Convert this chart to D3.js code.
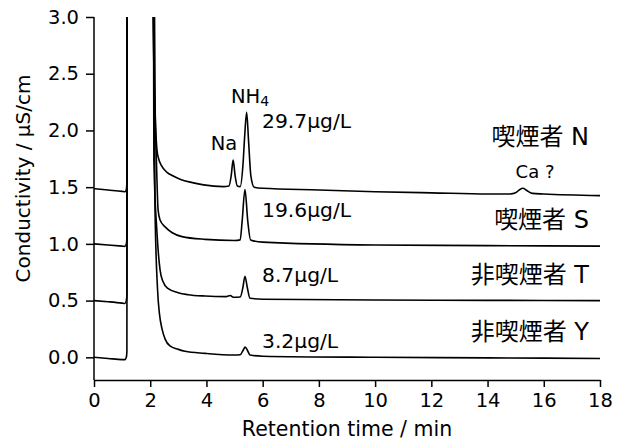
<!DOCTYPE html>
<html><head><meta charset="utf-8">
<script src="https://cdn.jsdelivr.net/npm/d3@7"></script>
<style>
body{margin:0;background:#fff;}
text{font-family:"DejaVu Sans","Noto Sans CJK JP",sans-serif;fill:#000;}
</style></head>
<body><svg id="c" width="622" height="442"></svg>
<script>
// ---- data ----
const xTicks = [0,2,4,6,8,10,12,14,16,18];
const yTicks = [0.0,0.5,1.0,1.5,2.0,2.5,3.0];
const sampleNames = ["喫煙者 N","喫煙者 S","非喫煙者 T","非喫煙者 Y"];
const nh4Labels = ["29.7µg/L","19.6µg/L","8.7µg/L","3.2µg/L"];
// [retention time (min), conductivity (µS/cm)]
const traceN = [[0,1.487],[0.5,1.475],[1.0,1.463],[1.1,1.46],[1.15,1.48],[1.17,1.55],[1.18,5],[2.05,5],[2.1,3.0],[2.24,1.83],[2.3,1.75],[2.4,1.69],[2.6,1.63],[2.8,1.6],[3.06,1.57],[3.5,1.54],[3.9,1.52],[4.6,1.505],[4.8,1.51],[4.88,1.6],[4.95,1.74],[5.02,1.6],[5.1,1.51],[5.2,1.505],[5.3,1.7],[5.36,1.95],[5.43,2.16],[5.5,1.9],[5.58,1.6],[5.7,1.5],[6.0,1.49],[8,1.475],[10,1.46],[12,1.45],[14,1.44],[14.8,1.44],[15.0,1.45],[15.15,1.48],[15.26,1.49],[15.4,1.47],[15.6,1.445],[16,1.44],[18,1.425]];
const traceS = [[0,1.0],[0.5,0.99],[1.0,0.98],[1.1,0.978],[1.15,1.0],[1.17,1.05],[1.18,5],[2.1,5],[2.17,2.3],[2.22,1.74],[2.28,1.3],[2.35,1.21],[2.53,1.15],[2.77,1.1],[3.13,1.064],[3.95,1.04],[5.0,1.03],[5.2,1.035],[5.27,1.2],[5.37,1.48],[5.47,1.2],[5.57,1.035],[6,1.015],[10,0.99],[14,0.985],[18,0.98]];
const traceT = [[0,0.5],[0.5,0.49],[1.0,0.478],[1.1,0.475],[1.15,0.5],[1.17,0.55],[1.18,5],[2.1,5],[2.13,1.74],[2.24,1.1],[2.35,0.77],[2.45,0.67],[2.63,0.607],[2.99,0.57],[3.34,0.552],[3.95,0.54],[4.7,0.535],[4.85,0.545],[4.95,0.53],[5.2,0.532],[5.3,0.62],[5.37,0.715],[5.45,0.62],[5.55,0.52],[6,0.512],[10,0.505],[14,0.502],[18,0.5]];
const traceY = [[0,0.0],[0.5,-0.01],[1.0,-0.02],[1.1,-0.02],[1.15,0.0],[1.17,0.05],[1.18,5],[2.1,5],[2.17,1.32],[2.26,0.6],[2.33,0.38],[2.42,0.25],[2.53,0.16],[2.7,0.1],[3.0,0.07],[3.24,0.053],[3.95,0.035],[5.0,0.02],[5.2,0.022],[5.3,0.06],[5.38,0.09],[5.46,0.06],[5.55,0.02],[6,0.01],[10,0.0],[14,-0.005],[18,-0.01]];
const traces = [traceN, traceS, traceT, traceY];

// ---- layout ----
const svg = d3.select("#c");
const L = 94, R = 600, T = 17, B = 380;
const x = d3.scaleLinear().domain([0,18]).range([L,R]);
const y = d3.scaleLinear().domain([-0.2,3.0]).range([B,T]);

svg.append("defs").append("clipPath").attr("id","clip")
  .append("rect").attr("x",L).attr("y",T).attr("width",R-L+2).attr("height",B-T);

const line = d3.line().x(d=>x(d[0])).y(d=>y(d[1])).curve(d3.curveMonotoneX);
const g = svg.append("g").attr("clip-path","url(#clip)");
traces.forEach(tr=>{
  g.append("path").datum(tr).attr("d",line)
   .attr("fill","none").attr("stroke","#000").attr("stroke-width",1.6).attr("stroke-linejoin","round");
});

// axes
const xAxis = svg.append("g").attr("transform",`translate(0,${B})`)
  .call(d3.axisBottom(x).tickValues(xTicks).tickFormat(d3.format("d")).tickSize(7).tickSizeOuter(0));
const yAxis = svg.append("g").attr("transform",`translate(${L},0)`)
  .call(d3.axisLeft(y).tickValues(yTicks).tickFormat(d3.format(".1f")).tickSize(8).tickSizeOuter(0));
[xAxis,yAxis].forEach(a=>{
  a.select(".domain").attr("stroke","#000").attr("stroke-width",1.5);
  a.selectAll(".tick line").attr("stroke","#000").attr("stroke-width",1.5);
  a.selectAll(".tick text").attr("font-size",19.5).attr("font-family","DejaVu Sans").attr("fill","#000");
});
xAxis.selectAll(".tick text").attr("dy","0.71em").attr("y",13);
yAxis.selectAll(".tick text").attr("x",-15);
yAxis.select(".domain").attr("d",`M0,${T}V${B}`);

svg.append("text").attr("x",(L+R)/2).attr("y",436).attr("text-anchor","middle")
  .attr("font-size",20.5).text("Retention time / min");
svg.append("text").attr("transform",`translate(30,${(T+B)/2 - 20}) rotate(-90)`)
  .attr("text-anchor","middle").attr("font-size",20).text("Conductivity / µS/cm");

// annotations
const nh = svg.append("text").attr("x",231).attr("y",103).attr("font-size",19.5);
nh.append("tspan").text("NH");
nh.append("tspan").attr("dy",3).attr("font-size",14).text("4");
svg.append("text").attr("x",224).attr("y",150).attr("text-anchor","middle").attr("font-size",19.5).text("Na");
svg.append("text").attr("x",535).attr("y",178).attr("text-anchor","middle").attr("font-size",18).text("Ca ?");

const nhY = [128,217,282,348];
nh4Labels.forEach((t,i)=>{
  svg.append("text").attr("x",262).attr("y",nhY[i]).attr("font-size",20.3).text(t);
});
const nameY = [145,228,283,340];
sampleNames.forEach((t,i)=>{
  svg.append("text").attr("x",589).attr("y",nameY[i]).attr("text-anchor","end").attr("font-size",24).text(t);
});
</script></body></html>
